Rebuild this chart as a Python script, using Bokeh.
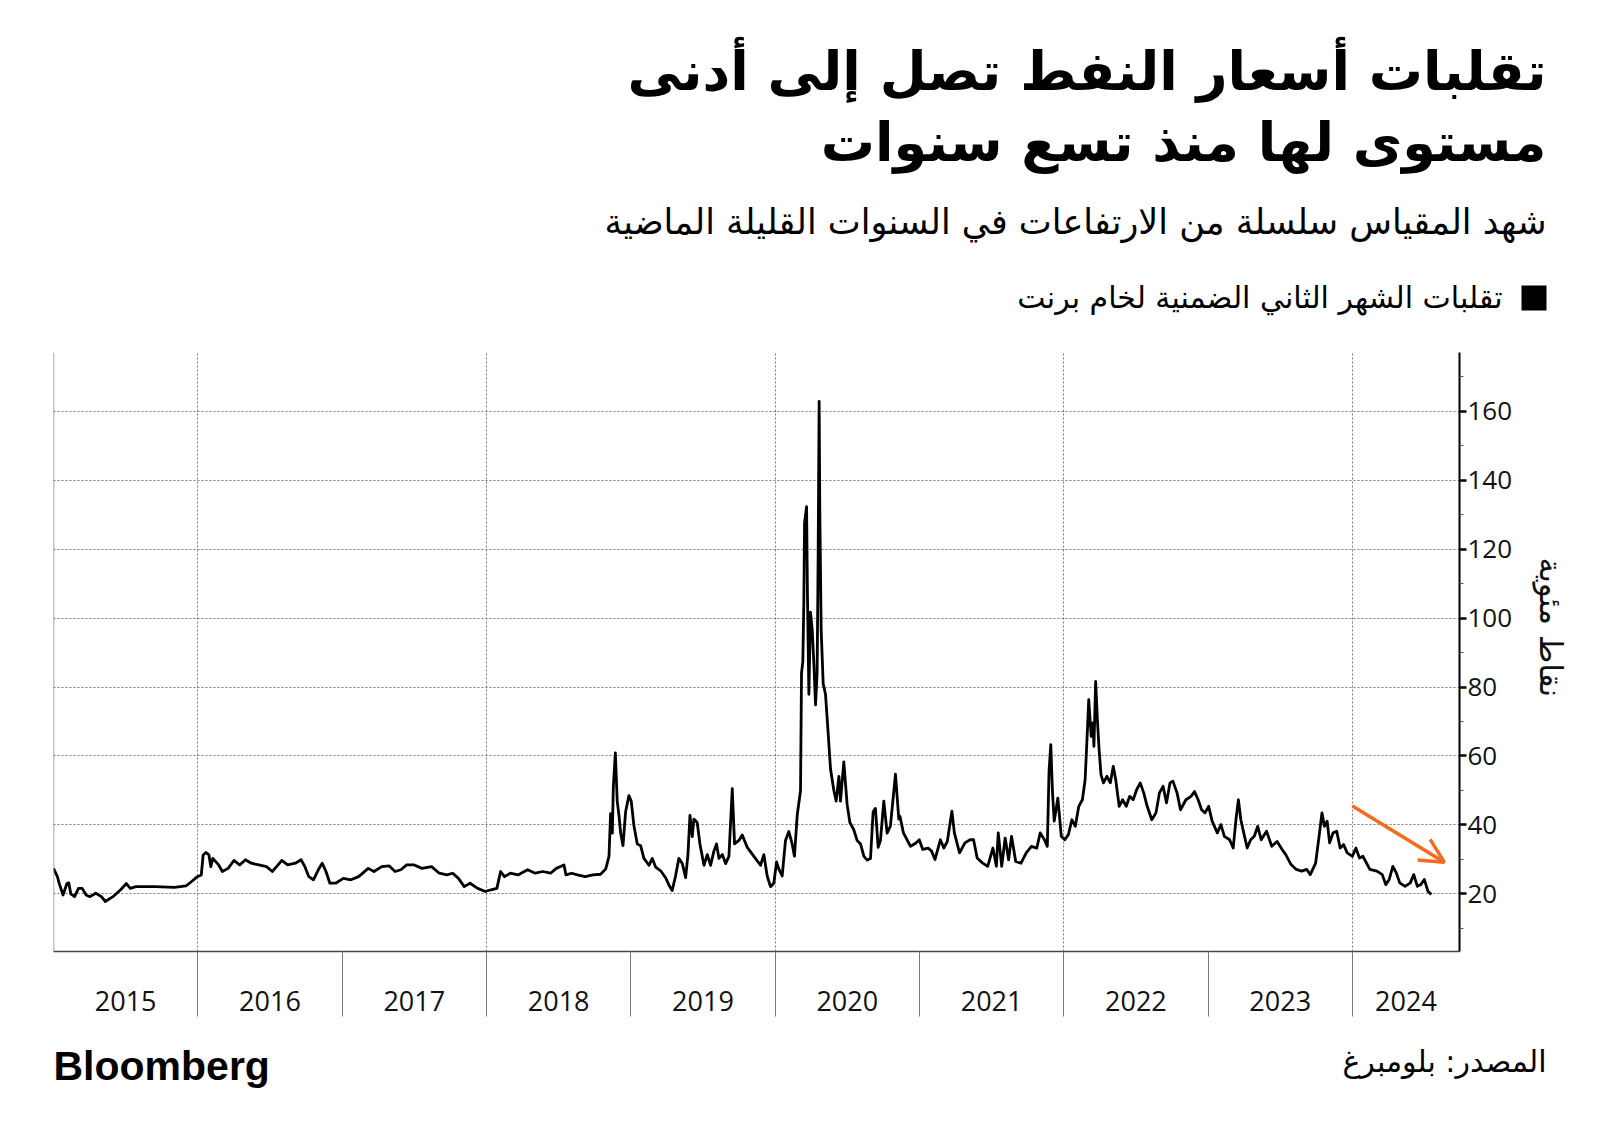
import numpy as np
from bokeh.plotting import figure
from bokeh.layouts import column
from bokeh.models import (Range1d, LinearAxis, FixedTicker, Label, Span, Arrow,
                          OpenHead, BoxAnnotation, Grid, ColumnDataSource,
                          CustomJSTickFormatter)
from bokeh.embed import file_html
from bokeh.resources import INLINE

# ---------------- data (years since 1 Jan 2015, implied vol in pct points) ----
t_2015_2018 = [0.000, 0.027, 0.040, 0.066, 0.093, 0.106, 0.120, 0.146, 0.173, 0.199,
               0.226, 0.253, 0.293, 0.332, 0.359, 0.412, 0.465, 0.505, 0.532, 0.572,
               0.705, 0.838, 0.918, 0.957, 0.997, 1.024, 1.037, 1.056, 1.077, 1.090,
               1.104, 1.144, 1.170, 1.210, 1.250, 1.290, 1.330, 1.370, 1.423, 1.476,
               1.516, 1.556, 1.582, 1.622, 1.676, 1.715, 1.742, 1.769, 1.801, 1.835,
               1.862, 1.888, 1.915, 1.955, 2.008, 2.061, 2.114, 2.181, 2.221, 2.274,
               2.327, 2.367, 2.407, 2.447, 2.500, 2.553, 2.620, 2.673, 2.726, 2.766,
               2.806, 2.846, 2.886, 2.939, 2.992, 3.032, 3.072, 3.098, 3.125, 3.165,
               3.218, 3.285, 3.338, 3.391, 3.444, 3.484, 3.537, 3.551, 3.590, 3.630,
               3.684, 3.737]
v_2015_2018 = [27.4, 25.0, 23.0, 19.7, 23.0, 23.2, 20.0, 19.2, 21.6, 21.6,
               19.7, 19.2, 20.2, 19.2, 17.8, 19.2, 21.2, 23.0, 21.6, 22.1,
               22.1, 21.9, 22.3, 23.6, 25.0, 25.5, 31.3, 32.0, 31.3, 27.9,
               30.3, 28.4, 26.5, 27.4, 29.7, 28.4, 29.9, 28.9, 28.4, 27.9,
               26.5, 28.4, 29.7, 28.4, 28.9, 29.9, 27.9, 25.0, 24.1, 27.0,
               28.9, 26.5, 23.1, 23.1, 24.5, 24.1, 25.0, 27.4, 26.5, 27.9,
               28.1, 26.5, 27.0, 28.4, 28.4, 27.4, 27.9, 26.0, 25.5, 26.0,
               24.5, 22.1, 23.1, 21.6, 20.7, 21.2, 21.6, 26.5, 25.0, 26.0,
               25.5, 27.0, 26.0, 26.5, 26.0, 27.4, 28.4, 25.5, 26.0, 25.5,
               25.0, 25.5]

t_2018_2020 = [3.791, 3.826, 3.849, 3.860, 3.872, 3.879, 3.893, 3.906, 3.918, 3.930,
               3.946, 3.964, 3.987, 4.003, 4.022, 4.045, 4.068, 4.091, 4.126, 4.149,
               4.172, 4.207, 4.241, 4.264, 4.287, 4.310, 4.333, 4.357, 4.380, 4.396,
               4.410, 4.426, 4.437, 4.460, 4.479, 4.507, 4.530, 4.553, 4.576, 4.594,
               4.611, 4.634, 4.657, 4.680, 4.703, 4.719, 4.749, 4.772, 4.807, 4.853,
               4.899, 4.922, 4.945, 4.968, 4.991, 5.010, 5.026, 5.049, 5.072, 5.095,
               5.118, 5.134, 5.153, 5.176, 5.183, 5.192, 5.199, 5.204, 5.218, 5.224,
               5.234, 5.245, 5.257, 5.268, 5.280, 5.291, 5.298, 5.305, 5.310, 5.319,
               5.333, 5.349, 5.361, 5.384, 5.407, 5.423, 5.442, 5.453, 5.476, 5.499,
               5.518, 5.545, 5.568, 5.592, 5.615, 5.638, 5.661, 5.679, 5.695, 5.714,
               5.730, 5.753, 5.776, 5.799, 5.834, 5.857]
v_2018_2020 = [25.7, 27.2, 30.9, 43.3, 37.6, 51.0, 60.9, 46.9, 42.8, 37.6,
               34.0, 43.8, 48.5, 46.9, 39.7, 34.5, 34.0, 30.3, 28.3, 30.3,
               27.8, 26.7, 24.7, 22.6, 21.0, 25.2, 30.3, 28.8, 24.7, 31.4,
               42.8, 36.6, 41.7, 40.7, 34.5, 28.3, 31.4, 28.3, 32.4, 34.5,
               30.3, 31.4, 28.8, 30.9, 50.5, 34.5, 35.5, 37.1, 33.5, 30.9,
               28.3, 31.4, 25.2, 22.1, 23.1, 29.3, 27.2, 25.2, 35.5, 38.1,
               34.5, 30.9, 42.8, 50.0, 84.1, 87.3, 104.8, 127.6, 132.3, 106.9,
               77.9, 101.7, 96.6, 87.3, 74.8, 84.1, 117.3, 162.8, 129.7, 96.6,
               81.0, 77.9, 70.7, 56.2, 50.0, 46.9, 54.1, 46.9, 58.3, 45.9,
               40.7, 38.6, 35.5, 34.5, 30.9, 29.8, 30.3, 43.8, 44.8, 33.5,
               35.5, 46.9, 37.6, 39.7, 54.7, 41.7]

t_2020_2024 = [5.865, 5.889, 5.914, 5.938, 5.974, 5.999, 6.023, 6.060, 6.084, 6.108,
               6.145, 6.169, 6.193, 6.225, 6.242, 6.278, 6.315, 6.351, 6.375, 6.400,
               6.436, 6.473, 6.509, 6.533, 6.546, 6.570, 6.594, 6.618, 6.638, 6.667,
               6.704, 6.740, 6.776, 6.813, 6.837, 6.866, 6.886, 6.898, 6.910, 6.922,
               6.934, 6.959, 6.983, 7.007, 7.032, 7.056, 7.080, 7.104, 7.129, 7.148,
               7.165, 7.173, 7.190, 7.202, 7.209, 7.221, 7.233, 7.245, 7.258, 7.275,
               7.299, 7.323, 7.343, 7.360, 7.384, 7.408, 7.433, 7.457, 7.481, 7.505,
               7.530, 7.554, 7.578, 7.610, 7.639, 7.663, 7.688, 7.712, 7.736, 7.756,
               7.785, 7.809, 7.846, 7.882, 7.906, 7.931, 7.955, 7.979, 8.004, 8.028,
               8.064, 8.089, 8.113, 8.149, 8.174, 8.193, 8.210, 8.227, 8.247, 8.271,
               8.295, 8.320, 8.344, 8.368, 8.405, 8.441, 8.478, 8.514, 8.538, 8.575,
               8.611, 8.648, 8.684, 8.708, 8.745, 8.769, 8.789, 8.806, 8.825, 8.842,
               8.866, 8.891, 8.915, 8.939, 8.964, 9.000, 9.024, 9.049, 9.073, 9.097,
               9.121, 9.170, 9.207, 9.231, 9.255, 9.280, 9.304, 9.328, 9.365, 9.401,
               9.425, 9.450, 9.474, 9.498, 9.523, 9.547]
v_2020_2024 = [42.5, 37.7, 35.7, 33.8, 34.7, 35.7, 32.9, 33.3, 32.4, 30.0,
               35.7, 33.3, 35.2, 44.0, 37.7, 31.9, 34.8, 35.7, 35.7, 30.4,
               29.0, 28.0, 33.3, 28.0, 37.7, 28.0, 36.2, 29.9, 36.7, 29.4,
               28.9, 31.9, 33.8, 33.3, 37.7, 35.7, 33.8, 55.6, 63.3, 49.3,
               41.1, 47.8, 36.7, 35.7, 37.2, 41.5, 39.6, 45.4, 47.3, 53.1,
               68.6, 76.3, 65.7, 69.6, 62.8, 81.6, 70.5, 61.8, 54.6, 52.2,
               54.1, 52.2, 57.0, 53.1, 45.4, 47.3, 45.4, 48.3, 47.3, 50.2,
               52.2, 49.3, 45.4, 41.5, 43.5, 49.3, 51.2, 46.4, 52.2, 52.7,
               49.3, 44.4, 47.3, 48.3, 49.7, 47.3, 44.4, 43.5, 45.4, 41.1,
               37.7, 40.1, 36.7, 35.7, 33.3, 41.5, 47.3, 41.5, 37.7, 33.3,
               35.7, 36.7, 39.6, 35.7, 38.2, 33.8, 35.2, 32.8, 31.4, 28.5,
               27.1, 26.6, 27.1, 25.6, 28.9, 36.7, 43.5, 39.6, 41.1, 34.8,
               37.7, 38.2, 33.3, 34.3, 31.9, 30.9, 33.3, 30.4, 30.9, 29.0,
               27.1, 26.6, 25.6, 22.7, 24.2, 28.0, 26.1, 23.2, 22.2, 23.2,
               25.6, 22.2, 22.7, 24.2, 20.8, 19.8]

start_year = 2015
years = list(range(2015, 2025))
y_ticks = [20, 40, 60, 80, 100, 120, 140, 160]
y_minor = [10, 30, 50, 70, 90, 110, 130, 150, 170]

title_1 = "تقلبات أسعار النفط تصل إلى أدنى"
title_2 = "مستوى لها منذ تسع سنوات"
subtitle = "شهد المقياس سلسلة من الارتفاعات في السنوات القليلة الماضية"
legend_txt = "تقلبات الشهر الثاني الضمنية لخام برنت"
y_label = "نقاط مئوية"
source_txt = "المصدر: بلومبرغ"
brand = "Bloomberg"

# trend arrow (start / end: years since 2015, value)
arrow_t = [9.0, 9.637]
arrow_v = [45.5, 29.2]

# ---------------------------------------------------------------------------
W = 1584
HEAD_H = 352
FRAME_L, FRAME_R, FRAME_B = 53, 1459, 951
MAIN_BOTTOM = 1026
TOTAL_H = 1127

ARABIC = "DejaVu Sans"
NUM = "Open Sans"


def blank(height, y_top):
    f = figure(width=W, height=height, x_range=Range1d(0, W),
               y_range=Range1d(y_top + height, y_top), output_backend="svg",
               toolbar_location=None, x_axis_type=None, y_axis_type=None,
               min_border=0)
    f.frame_align = False
    f.outline_line_color = None
    f.background_fill_color = "white"
    f.border_fill_color = "white"
    f.grid.visible = False
    return f


def lab(f, txt, x, y, size, align="right", font=ARABIC, style="normal",
        color="#000000", baseline="middle"):
    f.add_layout(Label(x=x, y=y, text=txt, text_align=align, text_baseline=baseline,
                       text_font=font, text_font_size=size, text_font_style=style,
                       text_color=color))


# ---- header ----
head = blank(HEAD_H, 0)
lab(head, title_1, 1546, 71, "54px", style="bold")
lab(head, title_2, 1546, 142, "54px", style="bold")
lab(head, subtitle, 1546, 221, "35px")
lab(head, legend_txt, 1502, 297, "30px")
head.add_layout(BoxAnnotation(left=1521, right=1546, top=285, bottom=310,
                              fill_color="black", fill_alpha=1, line_color=None))

# ---- main chart ----
t_all = np.array(t_2015_2018 + t_2018_2020 + t_2020_2024)
v_all = np.array(v_2015_2018 + v_2018_2020 + v_2020_2024)
src = ColumnDataSource(dict(x=start_year + t_all, y=v_all))

x_end = 2024.742
p = figure(width=W, height=MAIN_BOTTOM - HEAD_H, x_range=Range1d(2015.0, x_end),
           y_range=Range1d(3.3, 177.0), output_backend="svg",
           toolbar_location=None, x_axis_type=None, y_axis_type=None,
           min_border_left=FRAME_L, min_border_right=W - FRAME_R, min_border_top=0,
           min_border_bottom=MAIN_BOTTOM - FRAME_B)
p.outline_line_color = None
p.background_fill_color = "white"
p.border_fill_color = "white"

p.add_layout(Grid(dimension=0, ticker=FixedTicker(ticks=[2016, 2018, 2020, 2022, 2024]),
                  grid_line_color="#7a7a7a", grid_line_dash="2 2", grid_line_width=1))
p.add_layout(Grid(dimension=1, ticker=FixedTicker(ticks=y_ticks),
                  grid_line_color="#7a7a7a", grid_line_dash="2 2", grid_line_width=1))
p.add_layout(Span(location=2015.0, dimension="height", line_color="#8a8a8a",
                  line_width=1.5))

label_pos = [y + 0.5 for y in years[:-1]] + [(years[-1] + x_end) / 2]
xaxis = LinearAxis(ticker=FixedTicker(ticks=label_pos, minor_ticks=years[1:]),
                   formatter=CustomJSTickFormatter(code="return Math.floor(tick).toString()"),
                   major_tick_out=0, major_tick_in=0,
                   minor_tick_out=65, minor_tick_in=0,
                   minor_tick_line_color="#777777", minor_tick_line_width=1,
                   axis_line_color="#444444", axis_line_width=1.5,
                   major_label_standoff=-26,
                   major_label_text_font=NUM, major_label_text_font_size="27px",
                   major_label_text_color="#111111")
p.add_layout(xaxis, "below")

yaxis = LinearAxis(ticker=FixedTicker(ticks=y_ticks, minor_ticks=y_minor),
                   axis_label=y_label + "\u00a0" * 5, axis_label_text_font=ARABIC,
                   axis_label_text_font_size="31px", axis_label_text_font_style="normal",
                   axis_label_standoff=18, axis_label_text_color="#111111",
                   major_tick_out=7, major_tick_in=0, major_tick_line_width=2.5,
                   minor_tick_out=4, minor_tick_in=0, minor_tick_line_width=1,
                   minor_tick_line_color="#555555",
                   axis_line_color="black", axis_line_width=2,
                   major_label_standoff=1,
                   major_label_text_font=NUM, major_label_text_font_size="26px",
                   major_label_text_color="#111111")
p.add_layout(yaxis, "right")

p.line("x", "y", source=src, line_color="black", line_width=2.8, line_join="round")

orange = "#F86A1E"
p.add_layout(Arrow(end=OpenHead(size=24, line_color=orange, line_width=3.5),
                   x_start=start_year + arrow_t[0], y_start=arrow_v[0],
                   x_end=start_year + arrow_t[1], y_end=arrow_v[1],
                   line_color=orange, line_width=3.5))

# ---- footer ----
foot = blank(TOTAL_H - MAIN_BOTTOM, MAIN_BOTTOM)
lab(foot, brand, 53, 1065, "41px", align="left", font="Liberation Sans", style="bold")
lab(foot, source_txt, 1546, 1061, "30px")

layout = column(head, p, foot, spacing=0)
open("out.html", "w").write(file_html(layout, INLINE))
